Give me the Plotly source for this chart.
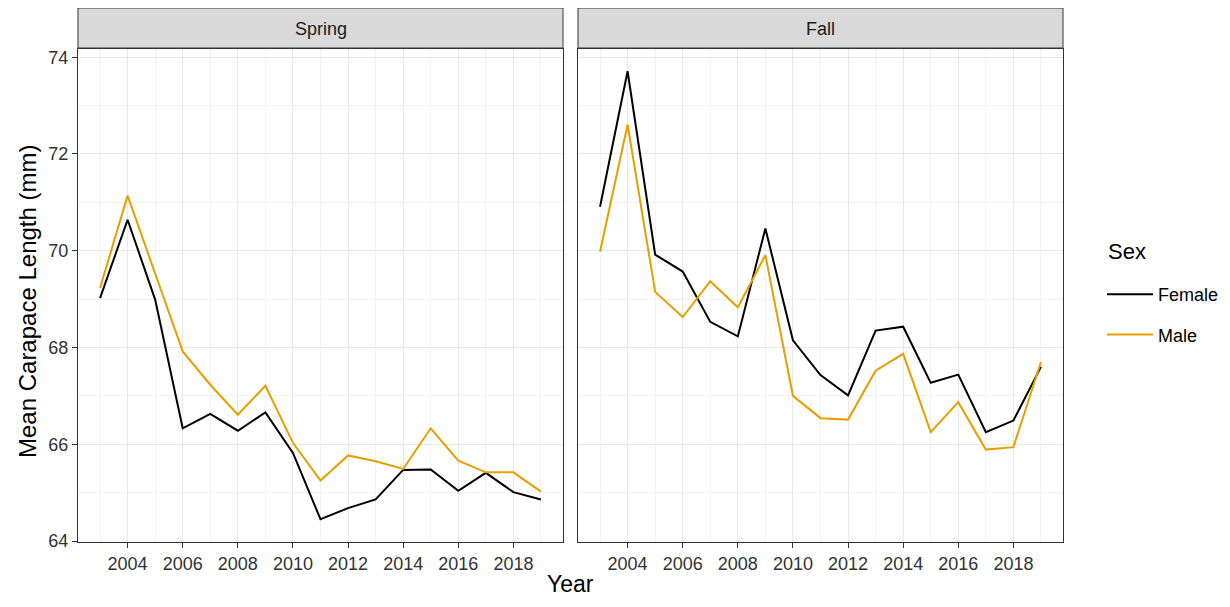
import plotly.graph_objects as go

years = list(range(2003, 2020))
spring_female = [69.02, 70.64, 68.99, 66.33, 66.63, 66.28, 66.66, 65.82, 64.45, 64.68, 64.86, 65.47, 65.48, 65.04, 65.41, 65.01, 64.86]
spring_male = [69.23, 71.14, 69.53, 67.92, 67.23, 66.61, 67.21, 66.03, 65.25, 65.77, 65.65, 65.49, 66.33, 65.66, 65.42, 65.42, 65.02]
fall_female = [70.91, 73.71, 69.92, 69.57, 68.53, 68.23, 70.46, 68.15, 67.43, 67.01, 68.35, 68.43, 67.27, 67.44, 66.25, 66.49, 67.60]
fall_male = [69.98, 72.61, 69.15, 68.63, 69.37, 68.83, 69.91, 67.00, 66.54, 66.51, 67.52, 67.87, 66.25, 66.87, 65.89, 65.94, 67.70]

panels = ["Spring", "Fall"]
sexes = ["Female", "Male"]
x_ticks = [2004, 2006, 2008, 2010, 2012, 2014, 2016, 2018]
y_ticks = [64, 66, 68, 70, 72, 74]

colors = {"Female": "#000000", "Male": "#E69F00"}
FONT = "Arial, 'Liberation Sans', sans-serif"

# page has an 8px body margin; the figure is sized to fit inside the window
OFF = 8
W, H = 1230 - 2 * OFF, 607 - 2 * OFF
def fx(px):
    return (px - OFF) / W
def fy(py):
    return (H - (py - OFF)) / H

x_dom = [[fx(78), fx(563)], [fx(578), fx(1063)]]
y_top, y_bot = 49, 542

fig = go.Figure()
data = {("Spring", "Female"): spring_female, ("Spring", "Male"): spring_male,
        ("Fall", "Female"): fall_female, ("Fall", "Male"): fall_male}

for i, p in enumerate(panels):
    for s in sexes:
        fig.add_trace(go.Scatter(
            x=years, y=data[(p, s)], mode="lines", name=s,
            line=dict(color=colors[s], width=2),
            xaxis="x" if i == 0 else "x2", yaxis="y" if i == 0 else "y2",
            showlegend=(i == 0), legendgroup=s,
        ))

xr = [2002.2, 2019.8]
yr = [63.98, 74.17]
grid_major = "#E8E8E8"
grid_minor = "#F3F3F3"
TICKFONT = dict(family=FONT, size=18, color="#333333")
common_x = dict(range=xr, tickvals=x_ticks, ticks="outside", ticklen=5, tickcolor="#333333",
                tickfont=TICKFONT,
                showline=True, linecolor="#333333", linewidth=1, mirror=True,
                showgrid=True, gridcolor=grid_major, gridwidth=1,
                minor=dict(tickvals=[y for y in years if y % 2 == 1], showgrid=True, gridcolor=grid_minor, gridwidth=1, ticks=""),
                zeroline=False, automargin=False, fixedrange=True)
common_y = dict(range=yr, tickvals=y_ticks, ticks="outside", ticklen=5, tickcolor="#333333",
                tickfont=TICKFONT,
                showline=True, linecolor="#333333", linewidth=1, mirror=True,
                showgrid=True, gridcolor=grid_major, gridwidth=1,
                minor=dict(tickvals=[65, 67, 69, 71, 73], showgrid=True, gridcolor=grid_minor, gridwidth=1, ticks=""),
                zeroline=False, automargin=False, domain=[fy(y_bot), fy(y_top)])

fig.update_layout(
    width=W, height=H,
    margin=dict(l=0, r=0, t=0, b=0, autoexpand=False),
    paper_bgcolor="white", plot_bgcolor="white",
    font=dict(family=FONT, color="#1A1A1A"),
    xaxis=dict(common_x, domain=x_dom[0], anchor="y"),
    xaxis2=dict(common_x, domain=x_dom[1], anchor="y2"),
    yaxis=dict(common_y, anchor="x"),
    yaxis2=dict(common_y, anchor="x2", showticklabels=False, ticks=""),
    legend=dict(x=fx(1102), y=fy(276), xanchor="left", yanchor="top",
                font=dict(family=FONT, size=18, color="#000000"),
                tracegroupgap=14, itemwidth=46, bgcolor="rgba(0,0,0,0)"),
    showlegend=True,
)

# facet strips
for i, p in enumerate(panels):
    fig.add_shape(type="rect", xref="paper", yref="paper",
                  x0=x_dom[i][0], x1=x_dom[i][1], y0=fy(48), y1=fy(8),
                  fillcolor="#D9D9D9", line=dict(color="#333333", width=1), layer="below")
    fig.add_annotation(text=p, xref="paper", yref="paper",
                       x=(x_dom[i][0] + x_dom[i][1]) / 2, y=fy(29),
                       showarrow=False, font=dict(family=FONT, size=18, color="#1A1A1A"),
                       xanchor="center", yanchor="middle")

fig.add_annotation(text="Sex", xref="paper", yref="paper", x=fx(1106), y=fy(251),
                   showarrow=False, font=dict(family=FONT, size=22, color="#000000"),
                   xanchor="left", yanchor="middle")
fig.add_annotation(text="Year", xref="paper", yref="paper", x=fx(570), y=0,
                   showarrow=False, font=dict(family=FONT, size=23, color="#000000"),
                   xanchor="center", yanchor="bottom")
fig.add_annotation(text="Mean Carapace Length (mm)", xref="paper", yref="paper", x=fx(27), y=fy(302),
                   showarrow=False, textangle=-90, font=dict(family=FONT, size=24, color="#000000"),
                   xanchor="center", yanchor="middle")

fig.write_html("out.html")
